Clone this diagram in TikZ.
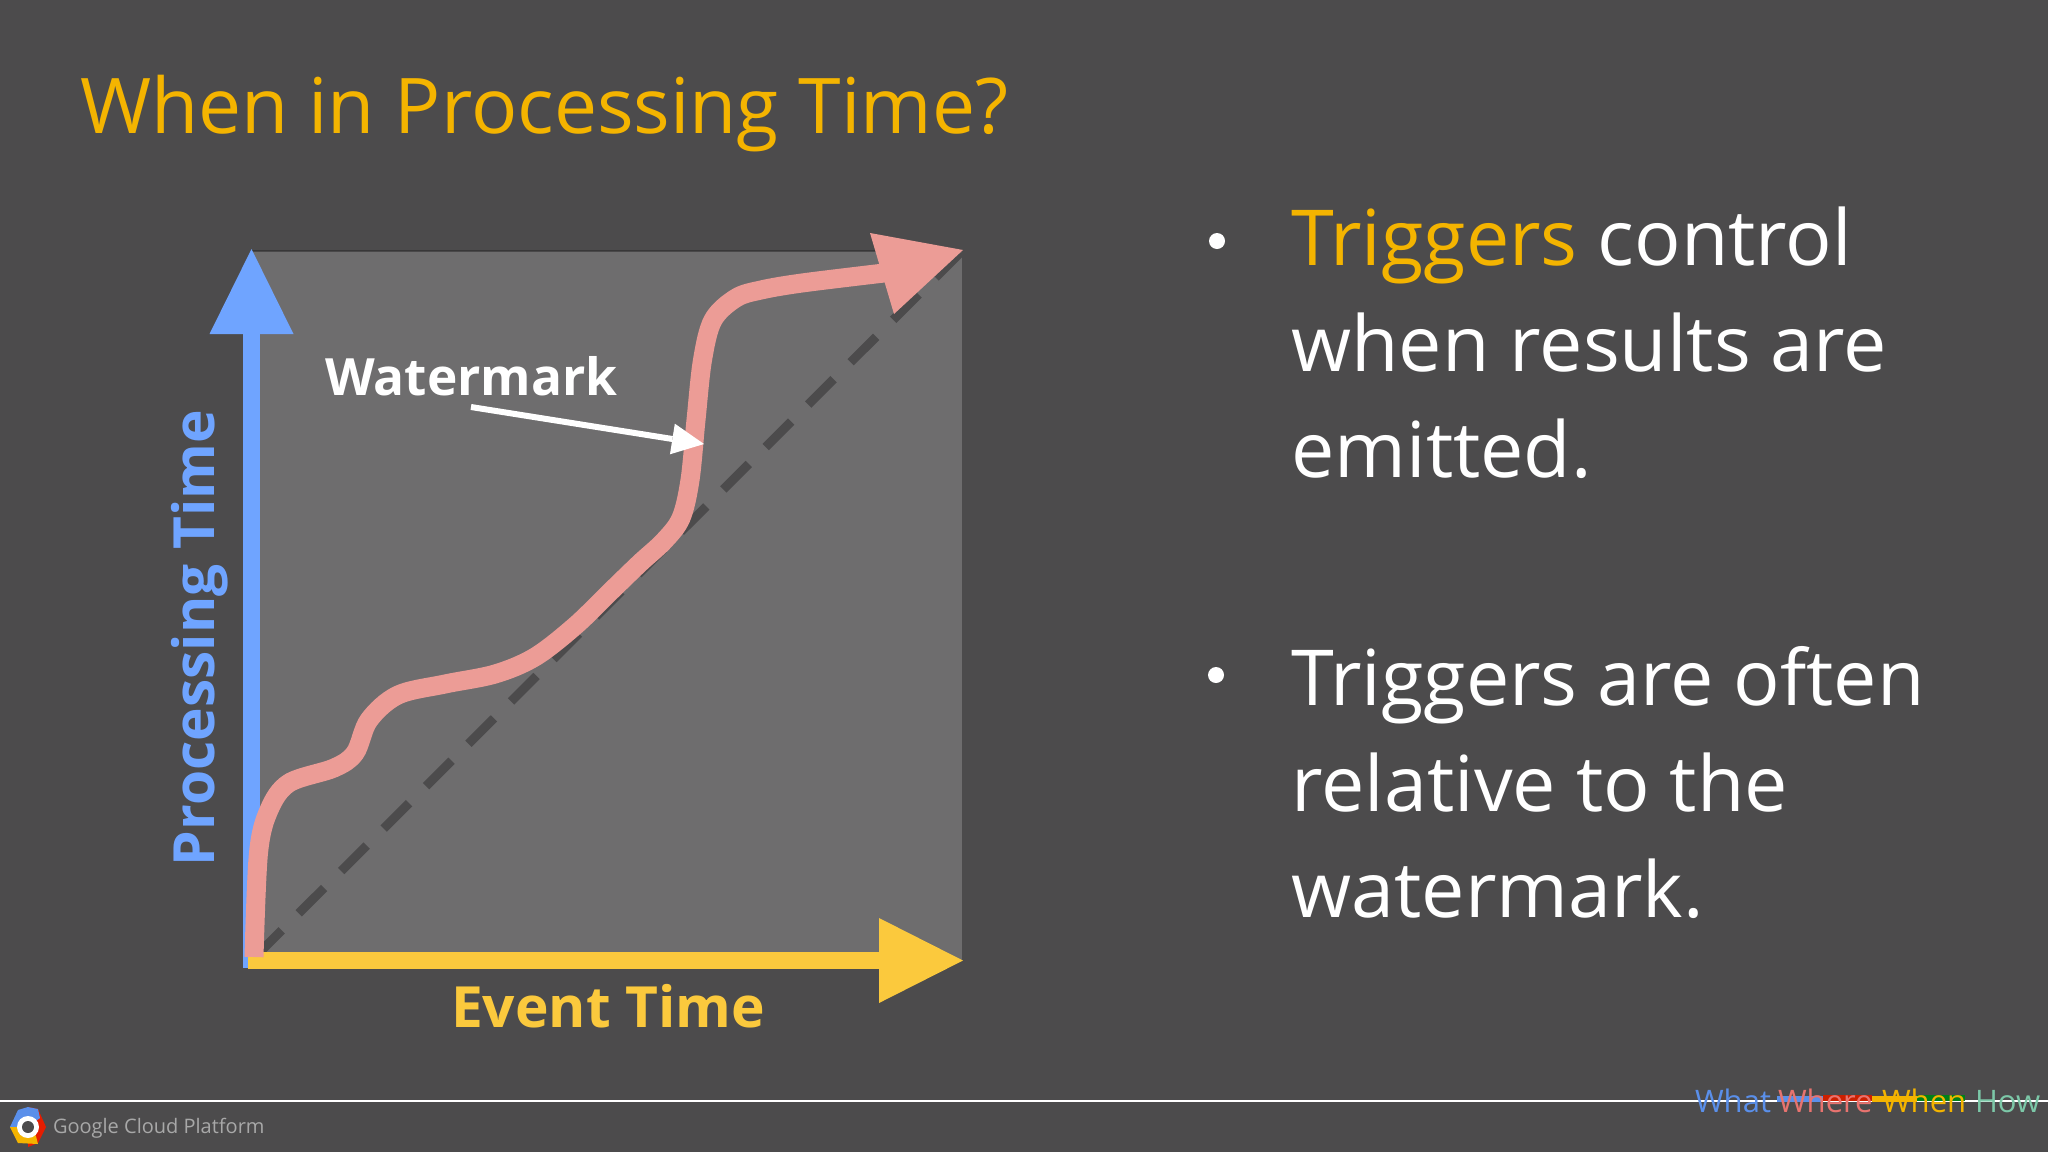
\documentclass[tikz,border=0pt]{standalone}
\usepackage{fontspec}
\setmainfont{Open Sans}
\usetikzlibrary{arrows.meta}
\definecolor{slidebg}{HTML}{4C4B4C}
\definecolor{panel}{HTML}{6E6D6E}
\definecolor{gold}{HTML}{F4B400}
\definecolor{axisblue}{HTML}{6FA4FF}
\definecolor{axisyellow}{HTML}{FBC93D}
\definecolor{wmpink}{HTML}{EC9C96}
\definecolor{navblue}{HTML}{5A8FEA}
\definecolor{navred}{HTML}{E8736F}
\definecolor{navgreen}{HTML}{7CC8A8}
\definecolor{gcpgrey}{HTML}{A8A8A8}
\tikzset{
  txt/.style={inner sep=0pt,outer sep=0pt,anchor=base west},
  title/.style={txt,font=\fontsize{38.4}{38.4}\selectfont,text=gold},
  body/.style={txt,font=\fontsize{38.6}{38.6}\selectfont,text=white},
  lab/.style={txt,font=\fontsize{28.4}{28.4}\selectfont\bfseries},
  nav/.style={txt,font=\fontsize{15.5}{15.5}\selectfont},
}
\begin{document}
\begin{tikzpicture}[x=0.5pt,y=-0.5pt]
\useasboundingbox (0,0) rectangle (2048,1152);
\fill[slidebg] (0,0) rectangle (2048,1152);
\node[title] (ttl) at (80,133) {When in Processing Time?};
% panel
\fill[panel] (252,251) rectangle (962,960);
\fill[black!50!slidebg,opacity=.5] (252,249.5) rectangle (962,252);
% diagonal
\coordinate (origin) at (252,960);
\coordinate (corner) at (963,250);
\draw[slidebg,line width=4.5pt,dash pattern=on 18pt off 12pt,dash phase=-3pt] (origin) -- (corner);
% axes
\coordinate (ybot) at (251.5,968);
\coordinate (ytop) at (251.5,249);
\draw[axisblue,line width=8.5pt,-{Triangle[length=42.5pt,width=42pt,line width=0pt]}] (ybot) -- (ytop);
\coordinate (xleft) at (248,960.5);
\coordinate (xright) at (963,960.5);
\draw[axisyellow,line width=8.5pt,-{Triangle[length=42pt,width=42.5pt,line width=0pt]}] (xleft) -- (xright);
% watermark curve
\draw[wmpink,line width=9.5pt] plot[smooth,tension=0.55] coordinates {
 (254,957) (258.5,853) (269,810) (289,783) (334,768) (355,753) (369,720) (398,695)
 (445,684) (495,674) (535,657) (575,626) (610,592) (640,563) (664,541) (681,518) (690,480) (696,420) (702.5,360)
 (713,320) (736,298) (761,290) (802,283) (884,273)};
\fill[wmpink] (963,250) -- (870,233) -- (894,314) -- cycle;
% labels
\node[txt,text=white,font=\fontsize{25.7}{25.7}\selectfont\bfseries] (wm) at (325,395) {Watermark};
\coordinate (wmfrom) at (471,407);
\coordinate (wmto) at (704,444);
\draw[white,line width=3pt,-{Triangle[length=16pt,width=15.5pt,line width=0pt]}] (wmfrom) -- (wmto);
\node[lab,text=axisyellow] (et) at (451,1027) {Event Time};
\node[lab,text=axisblue,rotate=90] (pt) at (214,866) {Processing Time};
% bullets
\fill[white] (1217,241) circle (4pt);
\node[body] (l1) at (1291.5,265) {\textcolor{gold}{Triggers} control};
\node[body] (l2) at (1291.5,371) {when results are};
\node[body] (l3) at (1291.5,477) {emitted.};
\fill[white] (1216,675) circle (4pt);
\node[body] (l4) at (1291.5,705) {Triggers are often};
\node[body] (l5) at (1291.5,811) {relative to the};
\node[body] (l6) at (1291.5,917) {watermark.};
% footer
\draw[white,line width=1pt] (0,1100.5) -- (2048,1100.5);
\fill[navblue] (1777,1096) rectangle (1823,1102);
\fill[red!70!orange!80!black] (1823,1095) rectangle (1872,1101);
\fill[gold] (1872,1096) rectangle (1917,1102);
\fill[green!50!black!80!teal] (1917,1095) rectangle (1965,1101);
\node[nav,text=navblue] (n1) at (1695,1112) {What};
\node[nav,text=navred] (n2) at (1778,1112) {Where};
\node[nav,text=gold] (n3) at (1882,1112) {When};
\node[nav,text=navgreen] (n4) at (1975,1112) {How};
% logo
\fill[red!75!orange!90!black] (28,1127) -- (28,1107) -- (38,1109) -- (46,1127) -- (38,1143) -- (28,1147) -- cycle;
\fill[navblue] (28,1127) -- (10,1127) -- (18,1110) -- (28,1107) -- (38,1109) -- (40,1118) -- cycle;
\fill[gold] (28,1127) -- (10,1127) -- (18,1143) -- (38,1144) -- (36,1136) -- cycle;
\fill[white] (28,1127) circle (5.5pt);
\fill[slidebg] (28,1127) circle (3pt);
\node[txt,font=\fontsize{10}{10}\selectfont,text=gcpgrey] (gcp) at (53,1133) {Google Cloud Platform};
\end{tikzpicture}
\end{document}
